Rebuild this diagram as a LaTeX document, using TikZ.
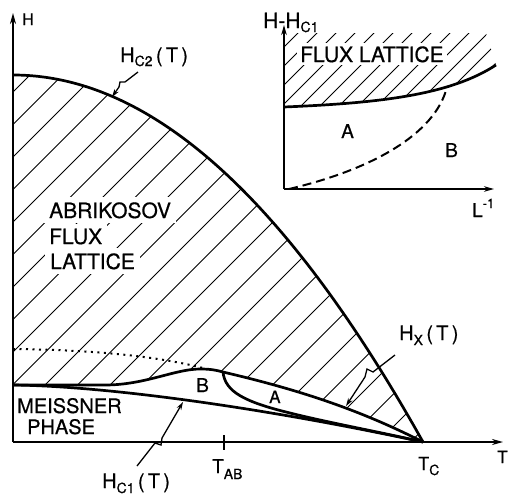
\documentclass[tikz,border=0pt]{standalone}
\usepackage{fontspec}
\setmainfont{TeX Gyre Heros}[FakeBold=0.6]
\usetikzlibrary{arrows.meta}
\newcommand\fsz[1]{\fontsize{#1}{#1}\selectfont}
\newcommand\lowsub[2]{\raisebox{-#1}{\fsz{14}#2}}
\begin{document}
\begin{tikzpicture}[x=1pt,y=-1pt,
  curve/.style={line width=2.7pt},
  axis/.style={line width=1.6pt,-{Stealth[length=11pt,width=6pt]}},
  hatchline/.style={line width=0.9pt},
  lbl/.style={inner sep=0pt,anchor=base west},
  boxlbl/.style={inner xsep=5pt,inner ysep=5pt,anchor=base west,fill=white},
  lead/.style={line width=1.3pt,-{Stealth[length=8pt,width=5pt]}},
  tickline/.style={line width=1.4pt}
]
\useasboundingbox (0,0) rectangle (509,496);

% ---------- main diagram coordinates
\coordinate (O) at (13,442);
\coordinate (Hend) at (13,13);
\coordinate (Tend) at (503,442);
\coordinate (Tc) at (423,442);
\coordinate (H0) at (13,75);
\coordinate (L0) at (13,385);
\coordinate (ABj) at (223,372);

% hatching of the flux lattice region
\begin{scope}
\clip (L0) -- (105,385) .. controls (145,385) and (175,369) .. (200,369)
      .. controls (210,369) and (216,370) .. (ABj)
      .. controls (300,390) and (360,410) .. (Tc)
      .. controls (286,197) and (150,75) .. (H0) -- cycle;
\foreach \k in {0,...,24}{
  \draw[hatchline] ({105+32.5*\k},0) -- ({105+32.5*\k-500},500);
}
\end{scope}

% axes
\draw[axis] (O) -- (Hend);
\draw[axis] (O) -- (Tend);
\coordinate (tab1) at (224,435);
\coordinate (tab2) at (224,450);
\draw[tickline] (tab1) -- (tab2);

% Hc2 curve
\draw[curve] (H0) .. controls (150,75) and (286,197) .. (Tc);
% upper boundary (bump + Hx)
\draw[curve] (L0) -- (105,385) .. controls (145,385) and (175,369) .. (200,369)
      .. controls (210,369) and (216,370) .. (ABj)
      .. controls (300,390) and (360,410) .. (Tc);
% Hc1 curve
\draw[curve] (L0) .. controls (100,386) and (250,405) .. (Tc);
% A/B boundary
\draw[curve] (ABj) .. controls (225,392) and (245,402) .. (290,413)
      .. controls (330,423) and (380,432) .. (Tc);
% dotted continuation
\coordinate (dot0) at (13,349);
\coordinate (dot1) at (203,368);
\draw[line width=2pt,dash pattern=on 2pt off 4.5pt] (dot0) .. controls (100,350) and (160,357) .. (dot1);

% labels main
\node[lbl,font=\fsz{16}] (Hlab) at (22,25) {H};
\node[lbl,font=\fsz{17}] (Tlab) at (497,463) {T};
\node[boxlbl,font=\fsz{21}] (abr) at (44,218) {ABRIKOSOV};
\node[boxlbl,font=\fsz{21}] (flx) at (44,244) {FLUX};
\node[boxlbl,font=\fsz{21}] (lat) at (45,269) {LATTICE};
\node[lbl,font=\fsz{20}] (mei) at (17,413) {MEISSNER};
\node[lbl,font=\fsz{20}] (pha) at (27,434) {PHASE};
\node[lbl,font=\fsz{19}] (Bm) at (196,392) {B};
\node[lbl,font=\fsz{17}] (Am) at (269,403) {A};
\node[lbl,font=\fsz{20}] (hc2) at (120,62) {H\lowsub{4pt}{C2}\,(\,T\,)};
\node[lbl,font=\fsz{20}] (hx) at (399,340) {H\lowsub{5pt}{X}\,(\,T\,)};
\node[lbl,font=\fsz{20}] (hc1) at (102,488) {H\lowsub{5pt}{C1}\,(\,T\,)};
\node[lbl,font=\fsz{19}] (tab) at (212,473) {T\lowsub{6pt}{AB}};
\node[lbl,font=\fsz{18}] (tc) at (418,470) {T\lowsub{5pt}{C}};

% leaders (lightning arrows)
\coordinate (c2a) at (138,72);
\coordinate (c2t) at (112,97);
\draw[lead] (c2a) -- (125,82) -- (120,82) -- (119,87) -- (c2t);
\coordinate (hxa) at (395,355);
\coordinate (hxt) at (346,406);
\draw[lead] (hxa) -- (373,372) -- (367,369) -- (365,377) -- (hxt);
\coordinate (c1a) at (137,466);
\coordinate (c1t) at (183,402);
\draw[lead] (c1a) -- (155,443) -- (161,445) -- (162,438) -- (c1t);

% ---------- inset
\coordinate (iO) at (284,189);
\coordinate (iH) at (284,25);
\coordinate (iL) at (494,189);
\coordinate (iC0) at (284,107);
\coordinate (iC1) at (496,65);
\coordinate (iJ) at (447,87);
\coordinate (iD0) at (289,189);

\begin{scope}
\clip (iC0) .. controls (380,103) and (450,95) .. (iC1) -- (486,33) -- (284,33) -- cycle;
\foreach \k in {0,...,14}{
  \draw[hatchline] ({312+19*\k},0) -- ({312+19*\k-300},300);
}
\end{scope}

\draw[axis,-{Stealth[length=10pt,width=5.5pt]}] (iO) -- (iH);
\draw[axis,-{Stealth[length=10pt,width=5.5pt]}] (iO) -- (iL);
\draw[curve] (iC0) .. controls (380,103) and (450,95) .. (iC1);
\draw[line width=2pt,dash pattern=on 9pt off 5pt] (iD0) .. controls (370,170) and (435,135) .. (iJ);

\node[boxlbl,font=\fsz{21},inner xsep=3pt,inner ysep=3pt] (ifl) at (297,62) {FLUX LATTICE};
\node[lbl,font=\fsz{19}] (iA) at (341,138) {A};
\node[lbl,font=\fsz{19}] (iB) at (445,157) {B};
\node[lbl,font=\fsz{21}] (ihh) at (263,28) {H-H\lowsub{4pt}{C1}};
\node[lbl,font=\fsz{19}] (iLl) at (472,217) {L\raisebox{9pt}{\fsz{13}-1}};
\end{tikzpicture}
\end{document}
